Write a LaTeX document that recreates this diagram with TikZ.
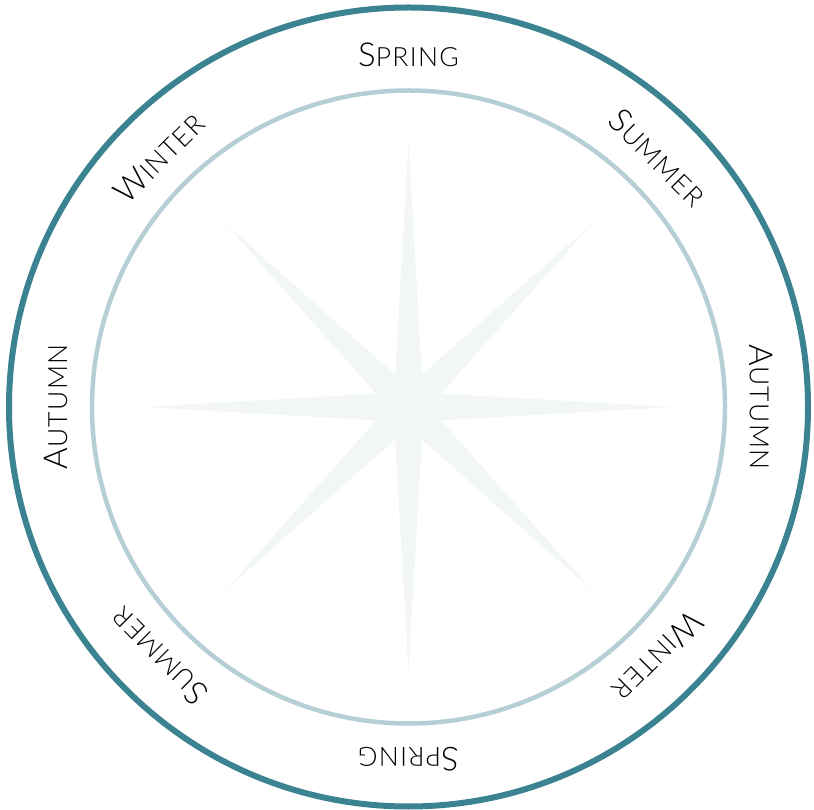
\documentclass[tikz,border=0pt]{standalone}
\usepackage{fontspec}
\newfontfamily\seasonfont{Lato Light}[LetterSpace=5]
\usetikzlibrary{calc}
\definecolor{outerring}{HTML}{3B8391}
\definecolor{innerring}{HTML}{B5CFD5}
\definecolor{starfill}{HTML}{F2F6F7}
\newcommand\seasonname[2]{{\seasonfont\fontsize{33}{33}\selectfont #1\fontsize{26.5}{26.5}\selectfont #2}}
\tikzset{
  seasonlbl/.style={inner sep=0pt, text=black},
}
\begin{document}
\begin{tikzpicture}[x=1pt,y=1pt]
\useasboundingbox (0,0) rectangle (814,809);
\coordinate (C) at (408.5,402);
% star
\fill[starfill, shift={(C)}] (0:265)
  \foreach \a in {0,45,...,315} { -- ({\a+22.5}:35) -- ({\a+45}:{mod(\a+45,90)==0 ? 265 : 259}) } -- cycle;
% rings
\draw[outerring, line width=6] (C) circle[radius=399.5];
\draw[innerring, line width=4.5] (C) circle[radius=316.5];
% labels
\node[seasonlbl, rotate=0]    (sp1) at ($(C)+(90:352)$)   {\seasonname{S}{PRING}};
\node[seasonlbl, rotate=-45]  (su1) at ($(C)+(45:353)$)   {\seasonname{S}{UMMER}};
\node[seasonlbl, rotate=-90]  (au1) at ($(C)+(0:353)$)    {\seasonname{A}{UTUMN}};
\node[seasonlbl, rotate=-135] (wi1) at ($(C)+(-45:353)$)  {\seasonname{W}{INTER}};
\node[seasonlbl, rotate=-180] (sp2) at ($(C)+(-90:352)$)  {\seasonname{S}{PRING}};
\node[seasonlbl, rotate=-225] (su2) at ($(C)+(-135:353)$) {\seasonname{S}{UMMER}};
\node[seasonlbl, rotate=-270] (au2) at ($(C)+(180:353)$)  {\seasonname{A}{UTUMN}};
\node[seasonlbl, rotate=-315] (wi2) at ($(C)+(135:353)$)  {\seasonname{W}{INTER}};
\end{tikzpicture}
\end{document}
